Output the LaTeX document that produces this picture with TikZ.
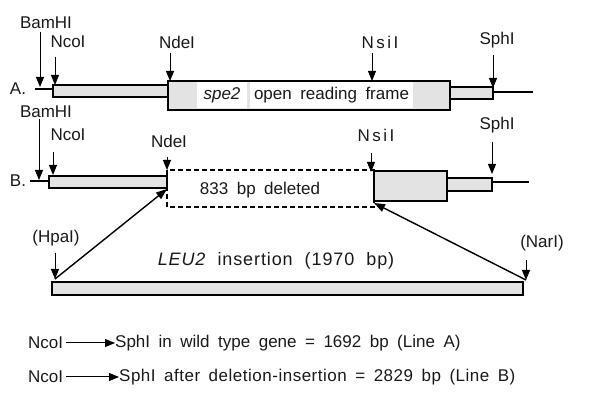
\documentclass[tikz,border=0pt]{standalone}
\usepackage{fontspec}
\setmainfont{Liberation Sans}
\usetikzlibrary{arrows.meta}

\begin{document}
\begin{tikzpicture}[x=1pt,y=-1pt,
  every node/.style={font=\fontsize{17}{20}\selectfont, inner sep=0pt, text=black!90},
  seg/.style={draw, line width=1.3pt, fill=gray!22},
  flank/.style={line width=1.6pt},
  cutsite/.style={-{Triangle[length=10pt,width=8pt]}, line width=1pt},
  splice/.style={-{Triangle[length=11pt,width=8pt]}, line width=1.4pt},
  gapbox/.style={draw, dash pattern=on 5pt off 3pt, line width=1.3pt},
  orf/.style={fill=white, minimum height=26pt},
  spaced/.style={font=\fontsize{17}{20}\selectfont\addfontfeature{LetterSpace=15}},
  wide/.style={font=\fontsize{18}{20}\selectfont\addfontfeature{LetterSpace=5}},
  widesum/.style={font=\fontsize{17}{20}\selectfont\addfontfeature{LetterSpace=3}}]
\useasboundingbox (0,0) rectangle (600,395);

% ---- Line A: wild type spe2 locus ----
\node (labA) at (18,89) {A.};
\draw[flank] (35,89) -- (53,89);
\draw[seg] (53,85) rectangle (168,97);
\draw[seg] (168,81) rectangle (450,110);
\node[orf, minimum width=50pt] (spe) at (222,95.5) {\itshape spe2};
\node[orf, minimum width=163pt] (orfA) at (331.5,95.5) {open\enspace reading\enspace frame};
\draw[seg] (450,87) rectangle (493,99);
\draw[flank] (493,92) -- (533,92);

\node (bamA) at (46,23) {BamHI};
\node (ncoA) at (68,42) {NcoI};
\node (ndeA) at (177,42) {NdeI};
\node[spaced] (nsiA) at (380,42) {NsiI};
\node (sphA) at (497,40) {SphI};
\coordinate (bamAs) at (40,32);  \coordinate (bamAt) at (40,87);
\coordinate (ncoAs) at (55,57);  \coordinate (ncoAt) at (55,85);
\coordinate (ndeAs) at (170,53); \coordinate (ndeAt) at (170,81);
\coordinate (nsiAs) at (372,53); \coordinate (nsiAt) at (372,81);
\coordinate (sphAs) at (493,55); \coordinate (sphAt) at (493,88);
\foreach \s in {bamA,ncoA,ndeA,nsiA,sphA}
  \draw[cutsite] (\s s) -- (\s t);

% ---- Line B: after deletion-insertion ----
\node (labB) at (18,181) {B.};
\draw[flank] (30,181) -- (49,181);
\draw[seg] (49,176) rectangle (167,188);
\draw[gapbox] (167,170) rectangle (374,207);
\node (del) at (260,190) {833\enspace bp\enspace deleted};
\draw[seg] (374,171) rectangle (447,201);
\draw[seg] (447,178) rectangle (492,191);
\draw[flank] (492,182) -- (529,182);

\node (bamB) at (46,112) {BamHI};
\node (ncoB) at (68,135) {NcoI};
\node (ndeB) at (169,141) {NdeI};
\node[spaced] (nsiB) at (376,135) {NsiI};
\node (sphB) at (497,125) {SphI};
\coordinate (bamBs) at (39,119);  \coordinate (bamBt) at (39,180);
\coordinate (ncoBs) at (53,152);  \coordinate (ncoBt) at (53,175);
\coordinate (ndeBs) at (167,157); \coordinate (ndeBt) at (167,170);
\coordinate (nsiBs) at (371,153); \coordinate (nsiBt) at (371,172);
\coordinate (sphBs) at (492,142); \coordinate (sphBt) at (492,174);
\foreach \s in {bamB,ncoB,ndeB,nsiB,sphB}
  \draw[cutsite] (\s s) -- (\s t);

% ---- LEU2 insertion fragment ----
\draw[seg] (52,282) rectangle (523,295);
\node[wide] (leu) at (276,261) {\itshape LEU2\hspace{12pt}\upshape insertion\hspace{12pt}(1970\hspace{12pt}bp)};
\node (hpa) at (56,238) {(HpaI)};
\node (nar) at (542,243) {(NarI)};
\coordinate (hpas) at (55,253);  \coordinate (hpat) at (55,279);
\coordinate (nars) at (526,260); \coordinate (nart) at (526,280);
\draw[cutsite] (hpas) -- (hpat);
\draw[cutsite] (nars) -- (nart);
\coordinate (ndeJ) at (167,189);
\coordinate (nsiJ) at (374,203);
\draw[splice] (hpat) -- (ndeJ);
\draw[splice] (nart) -- (nsiJ);

% ---- fragment sizes ----
\node[anchor=west] (nc1) at (28,343) {NcoI};
\node[anchor=west] (sz1) at (115,343) {SphI\enspace in\enspace wild\enspace type\enspace gene\enspace =\enspace 1692\enspace bp\enspace (Line\enspace A)};
\node[anchor=west] (nc2) at (28,377) {NcoI};
\node[anchor=west, widesum] (sz2) at (119,377) {SphI\enspace after\enspace deletion-insertion\enspace =\enspace 2829\enspace bp\enspace (Line\enspace B)};
\draw[cutsite] ([xshift=3pt]nc1.east) -- (sz1.west);
\draw[cutsite] ([xshift=3pt]nc2.east) -- (sz2.west);
\end{tikzpicture}
\end{document}
